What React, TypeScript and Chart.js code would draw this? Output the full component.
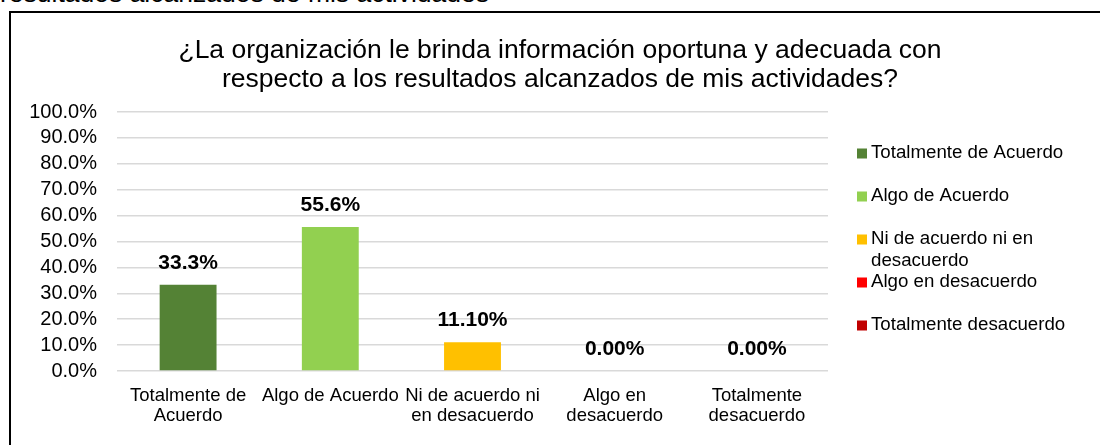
import React, { useEffect, useRef } from "react";
import { Chart, registerables } from "chart.js";

Chart.register(...registerables);

const categories = [
  "Totalmente de Acuerdo",
  "Algo de Acuerdo",
  "Ni de acuerdo ni en desacuerdo",
  "Algo en desacuerdo",
  "Totalmente desacuerdo",
];
const axisLabels = [
  ["Totalmente de", "Acuerdo"],
  ["Algo de Acuerdo"],
  ["Ni de acuerdo ni", "en desacuerdo"],
  ["Algo en", "desacuerdo"],
  ["Totalmente", "desacuerdo"],
];
const legendLabels = [
  ["Totalmente de Acuerdo"],
  ["Algo de Acuerdo"],
  ["Ni de acuerdo ni en", "desacuerdo"],
  ["Algo en desacuerdo"],
  ["Totalmente desacuerdo"],
];
const values = [33.3, 55.6, 11.1, 0, 0];
const valueLabels = ["33.3%", "55.6%", "11.10%", "0.00%", "0.00%"];
const colors = ["#548235", "#92D050", "#FFC000", "#FF0000", "#C00000"];
const titleLines = [
  "¿La organización le brinda información oportuna y adecuada con",
  "respecto a los resultados alcanzados de mis actividades?",
];
const headerText = "resultados alcanzados de mis actividades";

const FONT = "Arial, 'Liberation Sans', sans-serif";

const titlePlugin = {
  id: "centeredTitle",
  afterDraw(chart: any) {
    const ctx = chart.ctx;
    ctx.save();
    ctx.font = `26.5px ${FONT}`;
    ctx.fillStyle = "#000";
    ctx.textAlign = "center";
    ctx.textBaseline = "middle";
    titleLines.forEach((ln, i) => {
      ctx.fillText(ln, 549, 37.5 + i * 29);
    });
    ctx.restore();
  },
};

const valueLabelPlugin = {
  id: "valueLabels",
  afterDatasetsDraw(chart: any) {
    const ctx = chart.ctx;
    const meta = chart.getDatasetMeta(0);
    ctx.save();
    ctx.font = `bold 21px ${FONT}`;
    ctx.fillStyle = "#000";
    ctx.textAlign = "center";
    ctx.textBaseline = "alphabetic";
    meta.data.forEach((el: any, i: number) => {
      ctx.fillText(valueLabels[i], el.x, el.y - 16);
    });
    ctx.restore();
  },
};

const sideLegendPlugin = {
  id: "sideLegend",
  afterDraw(chart: any) {
    const ctx = chart.ctx;
    const area = chart.chartArea;
    const sqX = area.right + 29;
    const txX = area.right + 43;
    const startY = 140;
    const step = 43;
    const lineH = 22;
    ctx.save();
    ctx.font = `18.7px ${FONT}`;
    ctx.textAlign = "left";
    ctx.textBaseline = "middle";
    legendLabels.forEach((lines, i) => {
      const cy = startY + step * i;
      ctx.fillStyle = colors[i];
      ctx.fillRect(sqX, cy - 4.5, 10, 10);
      ctx.fillStyle = "#000";
      lines.forEach((ln, j) => {
        ctx.fillText(ln, txX, cy + j * lineH);
      });
    });
    ctx.restore();
  },
};

export default function App() {
  const canvasRef = useRef<HTMLCanvasElement | null>(null);

  useEffect(() => {
    if (!canvasRef.current) return;
    const chart = new Chart(canvasRef.current, {
      type: "bar",
      data: {
        labels: categories,
        datasets: [
          {
            label: "Respuestas",
            data: values,
            backgroundColor: colors,
            barPercentage: 0.8,
            categoryPercentage: 0.5,
          },
        ],
      },
      options: {
        responsive: false,
        animation: false,
        devicePixelRatio: 1,
        layout: { padding: { left: 0, right: 281, top: 99, bottom: 0 } },
        plugins: {
          legend: { display: false },
          tooltip: { enabled: false },
          title: { display: false },
        },
        scales: {
          x: {
            grid: { display: false, drawTicks: false },
            border: { display: false },
            ticks: {
              color: "#000",
              font: { family: FONT, size: 18.5, lineHeight: 1.06 },
              padding: 15,
              maxRotation: 0,
              autoSkip: false,
              callback: (_v: any, i: number) => axisLabels[i],
            },
            afterFit: (scale: any) => {
              scale.height = 74;
            },
          },
          y: {
            min: 0,
            max: 100,
            grid: { color: "#d9d9d9", lineWidth: 1.5, drawTicks: false },
            border: { display: false },
            ticks: {
              stepSize: 10,
              autoSkip: false,
              color: "#000",
              font: { family: FONT, size: 20 },
              padding: 20,
              callback: (v: any) => Number(v).toFixed(1) + "%",
            },
            afterFit: (scale: any) => {
              scale.width = 106;
            },
          },
        },
      },
      plugins: [valueLabelPlugin, sideLegendPlugin, titlePlugin],
    });
    return () => chart.destroy();
  }, []);

  return (
    <div
      style={{
        position: "fixed",
        left: 0,
        top: 0,
        width: 1100,
        height: 445,
        overflow: "hidden",
        background: "#fff",
      }}
    >
      <div
        style={{
          position: "absolute",
          left: 0,
          top: -20,
          font: `26.5px ${FONT}`,
          lineHeight: 1,
          whiteSpace: "nowrap",
          color: "#000",
        }}
      >
        {headerText}
      </div>
      <div
        style={{
          position: "absolute",
          left: 9,
          top: 11,
          width: 1200,
          height: 500,
          border: "2px solid #000",
          boxSizing: "border-box",
        }}
      >
        <canvas
          ref={canvasRef}
          width={1098}
          height={432}
          style={{ display: "block", width: 1098, height: 432 }}
        />
      </div>
    </div>
  );
}
